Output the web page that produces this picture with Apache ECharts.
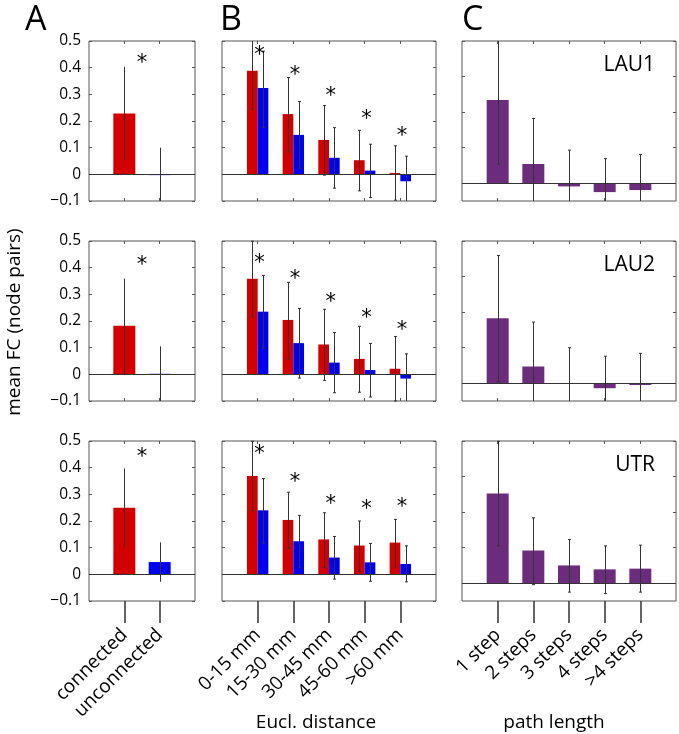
<!DOCTYPE html>
<html>
<head>
<meta charset="utf-8">
<script src="https://cdn.jsdelivr.net/npm/echarts@6/dist/echarts.min.js"></script>
<style>
  html, body { margin: 0; padding: 0; background: #fff; }
  #chart { width: 679px; height: 734px; }
</style>
</head>
<body>
<div id="chart"></div>
<script>
// categories
const rowNames = ["LAU1", "LAU2", "UTR"];
const catA = ["connected", "unconnected"];
const catB = ["0-15 mm", "15-30 mm", "30-45 mm", "45-60 mm", ">60 mm"];
const catC = ["1 step", "2 steps", "3 steps", "4 steps", ">4 steps"];
const ticksAB = [-0.1, 0, 0.1, 0.2, 0.3, 0.4, 0.5];
const ticksC = [0, 0.1, 0.2, 0.3, 0.4];

// panel A: [connected, unconnected] per row
const aMean = [[0.228, -0.003], [0.182, 0.002], [0.25, 0.046]];
const aLow = [[0.054, -0.106], [0.0, -0.101], [0.1, -0.028]];
const aHigh = [[0.403, 0.1], [0.359, 0.105], [0.397, 0.12]];
const aStar = [0.431, 0.424, 0.452];

// panel B: red / blue per row
const bRed = [[0.388, 0.226, 0.129, 0.053, 0.005], [0.358, 0.204, 0.112, 0.058, 0.021], [0.369, 0.204, 0.131, 0.108, 0.119]];
const bRedLow = [[0.244, 0.084, -0.003, -0.062, -0.097], [0.216, 0.057, -0.023, -0.067, -0.1], [0.239, 0.097, 0.025, 0.01, 0.028]];
const bRedHigh = [[0.532, 0.363, 0.258, 0.165, 0.107], [0.499, 0.345, 0.244, 0.18, 0.142], [0.499, 0.308, 0.231, 0.2, 0.206]];
const bBlue = [[0.324, 0.148, 0.062, 0.014, -0.026], [0.235, 0.117, 0.044, 0.016, -0.016], [0.24, 0.124, 0.063, 0.045, 0.039]];
const bBlueLow = [[0.176, 0.023, -0.052, -0.087, -0.12], [0.098, -0.014, -0.069, -0.085, -0.11], [0.117, 0.024, -0.018, -0.026, -0.028]];
const bBlueHigh = [[0.462, 0.273, 0.175, 0.113, 0.068], [0.371, 0.247, 0.157, 0.116, 0.077], [0.359, 0.221, 0.142, 0.116, 0.107]];
const bStar = [[0.46, 0.384, 0.305, 0.222, 0.155], [0.43, 0.369, 0.283, 0.224, 0.18], [0.463, 0.358, 0.276, 0.259, 0.264]];

// panel C: path length per row
const cMean = [[0.234, 0.054, -0.009, -0.025, -0.019], [0.183, 0.047, -0.001, -0.014, -0.005], [0.252, 0.092, 0.05, 0.039, 0.041]];
const cLow = [[0.054, -0.075, -0.11, -0.12, -0.12], [0.004, -0.08, -0.1, -0.1, -0.094], [0.105, -0.004, -0.025, -0.029, -0.025]];
const cHigh = [[0.41, 0.182, 0.093, 0.069, 0.081], [0.359, 0.172, 0.1, 0.076, 0.084], [0.399, 0.184, 0.123, 0.105, 0.107]];

const colLeft = [89, 222, 462];
const colWidth = [106, 214, 214];
const rowTop = [41, 241, 441];
const rowHeight = 160;

const RED = "#d40000";
const BLUE = "#0000f0";
const PURPLE = "#6b2c7c";
const FONT = "Open Sans";

function makeErr(cap) {
  return function (params, api) {
    const cs = params.coordSys;
    const x = api.value(0);
    const top = api.coord([x, api.value(2)]);
    const bot = api.coord([x, api.value(1)]);
    const px = Math.round(top[0]) + 0.5;
    const y1 = Math.max(top[1], cs.y);
    const y2 = Math.min(bot[1], cs.y + cs.height);
    const st = { stroke: "#333", lineWidth: 1 };
    const kids = [{ type: "line", shape: { x1: px, y1: y1, x2: px, y2: y2 }, style: st }];
    if (cap > 0) {
      if (top[1] >= cs.y) kids.push({ type: "line", shape: { x1: px - cap, y1: top[1], x2: px + cap, y2: top[1] }, style: st });
      if (bot[1] <= cs.y + cs.height) kids.push({ type: "line", shape: { x1: px - cap, y1: bot[1], x2: px + cap, y2: bot[1] }, style: st });
    }
    return { type: "group", children: kids };
  };
}

function renderStar(params, api) {
  const p = api.coord([api.value(0), api.value(1)]);
  return {
    type: "text", x: p[0], y: p[1] + 4,
    style: { text: "*", fontSize: 21, fontFamily: "DejaVu Sans", fill: "#000", align: "center", verticalAlign: "middle" }
  };
}

const zeroLine = {
  symbol: "none", silent: true, label: { show: false },
  lineStyle: { color: "#333", width: 1, type: "solid" },
  data: [{ yAxis: 0 }]
};

const grids = [], xAxes = [], yAxes = [], series = [];

for (let r = 0; r < 3; r++) {
  for (let c = 0; c < 3; c++) {
    const gi = r * 3 + c;
    const cats = c === 0 ? catA : c === 1 ? catB : catC;
    const n = cats.length;
    const pos = cats.map((_, i) => i + 1);
    const bottomRow = r === 2;
    grids.push({ left: colLeft[c], top: rowTop[r], width: colWidth[c], height: rowHeight, show: true, borderColor: "#555", borderWidth: 1, backgroundColor: "transparent" });

    xAxes.push({
      type: "value", gridIndex: gi, position: "bottom", min: 0, max: n + 1,
      axisLine: { show: false, onZero: false }, splitLine: { show: false },
      axisTick: bottomRow
        ? { show: true, inside: false, length: 22, customValues: pos, lineStyle: { color: "#333", width: 1.5 } }
        : { show: true, inside: true, length: 3, customValues: pos, lineStyle: { color: "#555" } },
      axisLabel: bottomRow
        ? { show: true, customValues: pos, rotate: 45, margin: 31, fontFamily: FONT, fontSize: 19, color: "#000",
            formatter: v => cats[Math.round(v) - 1] || "" }
        : { show: false }
    });
    xAxes.push({
      type: "value", gridIndex: gi, position: "top", min: 0, max: n + 1,
      axisLine: { show: false, onZero: false }, splitLine: { show: false },
      axisTick: { show: true, inside: true, length: 3, customValues: pos, lineStyle: { color: "#555" } },
      axisLabel: { show: false }
    });

    const ticks = c === 2 ? ticksC : ticksAB;
    const ymin = c === 2 ? -0.05 : -0.1;
    const ymax = c === 2 ? 0.4 : 0.5;
    yAxes.push({
      type: "value", gridIndex: gi, position: "left", min: ymin, max: ymax,
      axisLine: { show: false, onZero: false }, splitLine: { show: false },
      axisTick: { show: true, inside: true, length: 3, customValues: ticks, lineStyle: { color: "#555" } },
      axisLabel: c === 0
        ? { show: true, customValues: ticks, margin: 8, fontFamily: FONT, fontSize: 15.5, color: "#000",
            formatter: v => (Math.abs(v) < 1e-9 ? "0" : v < 0 ? "\u2212" + Math.abs(v).toFixed(1) : v.toFixed(1)) }
        : { show: false }
    });
    yAxes.push({
      type: "value", gridIndex: gi, position: "right", min: ymin, max: ymax,
      axisLine: { show: false, onZero: false }, splitLine: { show: false },
      axisTick: { show: true, inside: true, length: 3, customValues: ticks, lineStyle: { color: "#555" } },
      axisLabel: { show: false }
    });

    const ax = { xAxisIndex: 2 * gi, yAxisIndex: 2 * gi };
    if (c === 0) {
      series.push({ type: "bar", ...ax, data: [[1, aMean[r][0]]], barWidth: 22, barGap: "-100%", itemStyle: { color: RED }, markLine: zeroLine, z: 2 });
      series.push({ type: "bar", ...ax, data: [[2, aMean[r][1]]], barWidth: 22, barGap: "-100%", itemStyle: { color: BLUE }, z: 2 });
      series.push({ type: "custom", ...ax, renderItem: makeErr(0), z: 4,
        data: [[1, aLow[r][0], aHigh[r][0]], [2, aLow[r][1], aHigh[r][1]]] });
      series.push({ type: "custom", ...ax, renderItem: renderStar, z: 5, data: [[1.5, aStar[r]]] });
    } else if (c === 1) {
      series.push({ type: "bar", ...ax, data: pos.map((g, i) => [g - 0.15, bRed[r][i]]), barWidth: 10.7, barGap: "-100%", itemStyle: { color: RED }, markLine: zeroLine, z: 2 });
      series.push({ type: "bar", ...ax, data: pos.map((g, i) => [g + 0.15, bBlue[r][i]]), barWidth: 10.7, barGap: "-100%", itemStyle: { color: BLUE }, z: 2 });
      series.push({ type: "custom", ...ax, renderItem: makeErr(1.5), z: 4,
        data: pos.map((g, i) => [g - 0.15, bRedLow[r][i], bRedHigh[r][i]]).concat(pos.map((g, i) => [g + 0.15, bBlueLow[r][i], bBlueHigh[r][i]])) });
      series.push({ type: "custom", ...ax, renderItem: renderStar, z: 5, data: pos.map((g, i) => [g + 0.05, bStar[r][i]]) });
    } else {
      series.push({ type: "bar", ...ax, data: pos.map((g, i) => [g, cMean[r][i]]), barWidth: 22, itemStyle: { color: PURPLE }, markLine: zeroLine, z: 2 });
      series.push({ type: "custom", ...ax, renderItem: makeErr(1.5), z: 4,
        data: pos.map((g, i) => [g, cLow[r][i], cHigh[r][i]]) });
    }
  }
}

const graphic = [];
["A", "B", "C"].forEach((t, i) => {
  graphic.push({ type: "text", left: [25, 220, 462][i], top: 3, style: { text: t, fontFamily: FONT, fontSize: 34, fill: "#000" } });
});
rowNames.forEach((t, r) => {
  graphic.push({ type: "text", x: colLeft[2] + colWidth[2] - 21, y: rowTop[r] + 24,
    style: { text: t, fontFamily: FONT, fontSize: 21, fill: "#000", align: "right", verticalAlign: "middle" } });
});
graphic.push({ type: "text", x: 316, y: 723, style: { text: "Eucl. distance", fontFamily: FONT, fontSize: 19, fill: "#000", align: "center", verticalAlign: "middle" } });
graphic.push({ type: "text", x: 554, y: 723, style: { text: "path length", fontFamily: FONT, fontSize: 19, fill: "#000", align: "center", verticalAlign: "middle" } });
graphic.push({ type: "text", x: 15, y: 322, rotation: Math.PI / 2,
  style: { text: "mean FC (node pairs)", fontFamily: FONT, fontSize: 19, fill: "#000", align: "center", verticalAlign: "middle" } });

const chart = echarts.init(document.getElementById("chart"), null, { renderer: "canvas" });
chart.setOption({
  animation: false,
  backgroundColor: "#fff",
  grid: grids,
  xAxis: xAxes,
  yAxis: yAxes,
  series: series,
  graphic: graphic
});
</script>
</body>
</html>
